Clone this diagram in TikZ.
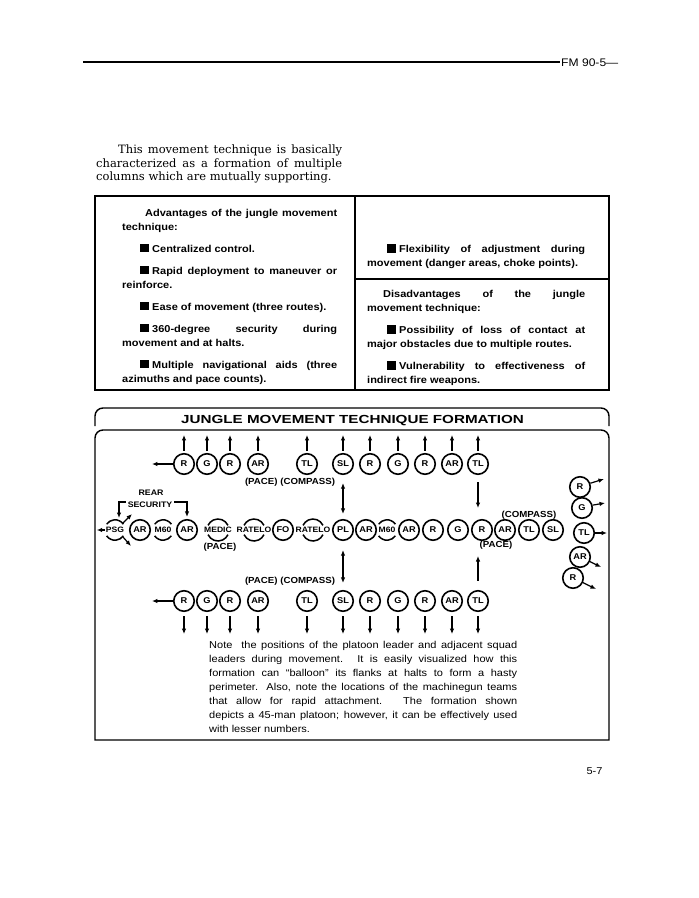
\documentclass[tikz,border=0pt]{standalone}
\usepackage{fontspec}
\setmainfont{DejaVu Serif}
\newfontfamily\uf[FakeStretch=1.1]{Liberation Sans}
\newfontfamily\tf[FakeStretch=1.3]{Liberation Sans}
\usetikzlibrary{arrows.meta}
\newcommand\sqb{\rule{8.5pt}{8.5pt}\hspace{3.5pt}}
\newcommand\arcpair[3]{%
  \draw[line width=1.5pt] ([shift={(90-#3:#2pt)}]#1.center) arc[start angle=90-#3,end angle=90+#3,radius=#2pt];
  \draw[line width=1.5pt] ([shift={(270-#3:#2pt)}]#1.center) arc[start angle=270-#3,end angle=270+#3,radius=#2pt];}
\begin{document}
\begin{tikzpicture}[x=1pt,y=-1pt,
  frame/.style={line width=1.4pt},
  arr/.style={line width=1.2pt,-{Latex[length=5.5pt,width=4.5pt]}},
  darr/.style={line width=1.2pt,{Latex[length=5.5pt,width=4.5pt]}-{Latex[length=5.5pt,width=4.5pt]}},
  sol/.style={circle,draw,line width=1.6pt,minimum size=20.5pt,inner sep=0pt,font=\uf\bfseries\fontsize{8.4}{9}\selectfont},
  lab/.style={inner sep=0pt,font=\uf\bfseries\fontsize{7.8}{8}\selectfont},
  lab8/.style={inner sep=0pt,font=\uf\bfseries\fontsize{8}{9}\selectfont},
  capt/.style={inner sep=0pt,font=\uf\bfseries\fontsize{8.8}{10}\selectfont},
  para/.style={anchor=north west,inner sep=0pt,align=justify},
  tabtext/.style={para,font=\uf\bfseries\fontsize{10}{14}\selectfont},
]
\fill[white] (0,0) rectangle (699,898);
\useasboundingbox (0,0) rectangle (699,898);

% header
\coordinate (hl) at (83,62);
\node[anchor=base west,inner sep=0pt,font=\uf\fontsize{11}{13}\selectfont] (hdr) at (561,66) {FM 90-5—};
\draw[line width=1.3pt] (hl) -- ([xshift=-1pt]hdr.west |- hl);

% intro
\node[para,text width=246pt,font=\fontsize{11.5}{13.4}\selectfont] (intro) at (96,144.8)
 {\noindent\hspace*{22pt}This movement technique is basically\linebreak characterized as a formation of multiple\linebreak columns which are mutually supporting.};

% table
\draw[frame] (95,196) rectangle (609,390);
\draw[frame] (355,196) -- (355,390);
\draw[frame] (355,279) -- (609,279);
\node[tabtext,text width=215pt] (adv) at (122,209)
 {\setlength\parskip{8pt}%
 \noindent\hspace*{23pt}Advantages of the jungle movement\linebreak technique:\par
 \noindent\hspace*{18pt}\sqb Centralized control.\par
 \noindent\hspace*{18pt}\sqb Rapid deployment to maneuver or\linebreak reinforce.\par
 \noindent\hspace*{18pt}\sqb Ease of movement (three routes).\par
 \noindent\hspace*{18pt}\sqb 360-degree security during\linebreak movement and at halts.\par
 \noindent\hspace*{18pt}\sqb Multiple navigational aids (three\linebreak azimuths and pace counts).};
\node[tabtext,text width=218pt] (flex) at (367,244)
 {\noindent\hspace*{20pt}\sqb Flexibility of adjustment during\linebreak movement (danger areas, choke points).};
\node[tabtext,text width=218pt] (dis) at (367,290.5)
 {\setlength\parskip{8pt}%
 \noindent\hspace*{16pt}Disadvantages of the jungle\linebreak movement technique:\par
 \noindent\hspace*{20pt}\sqb Possibility of loss of contact at\linebreak major obstacles due to multiple routes.\par
 \noindent\hspace*{20pt}\sqb Vulnerability to effectiveness of\linebreak indirect fire weapons.};

% diagram frame
\draw[frame] (95,426) -- (95,416) arc[start angle=180,end angle=90,radius=8pt]
  -- (601,408) arc[start angle=90,end angle=0,radius=8pt] -- (609,426);
\node[anchor=base,inner sep=0pt,font=\tf\bfseries\fontsize{11.7}{13}\selectfont] (title) at (352.5,423.2) {JUNGLE MOVEMENT TECHNIQUE FORMATION};
\draw[frame] (95,740) -- (95,438) arc[start angle=180,end angle=90,radius=8pt]
  -- (601,430) arc[start angle=90,end angle=0,radius=8pt] -- (609,740) -- cycle;

% top row
\foreach \n/\x/\l in {t1/184/R,t2/207/G,t3/230/R,t4/258/AR,t5/307/TL,t6/343/SL,t7/370/R,t8/398/G,t9/425/R,t10/452/AR,t11/478/TL}
  \node[sol] (\n) at (\x,464) {\l};
\foreach \n in {t1,t2,t3,t4,t5,t6,t7,t8,t9,t10,t11}
  \draw[arr,shorten <=2pt] (\n.north) -- ++(0,-18);
\draw[arr] (t1.west) -- ++(-21,0);
\node[capt] (pc1) at (290,482) {(PACE) (COMPASS)};

% bottom row
\foreach \n/\x/\l in {b1/184/R,b2/207/G,b3/230/R,b4/258/AR,b5/307/TL,b6/343/SL,b7/370/R,b8/398/G,b9/425/R,b10/452/AR,b11/478/TL}
  \node[sol] (\n) at (\x,601) {\l};
\foreach \n in {b1,b2,b3,b4,b5,b6,b7,b8,b9,b10,b11}
  \draw[arr,shorten <=4pt] (\n.south) -- ++(0,22);
\draw[arr] (b1.west) -- ++(-21,0);
\node[capt] (pc2) at (290,581) {(PACE) (COMPASS)};

% middle row
\node[lab] (m1) at (115,530) {PSG};
\node[sol] (m2) at (140,530) {AR};
\node[lab] (m3) at (163,530) {M60};
\node[sol] (m4) at (187,530) {AR};
\node[lab] (m5) at (218,530) {MEDIC};
\node[lab] (m6) at (254,530) {RATELO};
\node[sol] (m7) at (283,530) {FO};
\node[lab] (m8) at (313,530) {RATELO};
\node[sol] (m9) at (343,530) {PL};
\node[sol] (m10) at (366,530) {AR};
\node[lab] (m11) at (387,530) {M60};
\node[sol] (m12) at (409,530) {AR};
\node[sol] (m13) at (433,530) {R};
\node[sol] (m14) at (458,530) {G};
\node[sol] (m15) at (482,530) {R};
\node[sol] (m16) at (505,530) {AR};
\node[sol] (m17) at (529,530) {TL};
\node[sol] (m18) at (553,530) {SL};
\arcpair{m1}{10.2}{55}
\arcpair{m3}{10.2}{55}
\arcpair{m11}{10.2}{55}
\arcpair{m5}{11}{65}
\arcpair{m6}{11}{65}
\arcpair{m8}{11}{65}

\node[capt] (cm) at (529,515) {(COMPASS)};
\node[capt] (pm1) at (220,547) {(PACE)};
\node[capt] (pm2) at (496,545) {(PACE)};

% rear security
\node[lab8] (rear) at (151,493) {REAR};
\node[lab8] (sec) at (150,505) {SECURITY};
\draw[arr] ([xshift=-2pt,yshift=3pt]sec.west) -| ([xshift=4pt,yshift=12pt]m1.center);
\draw[arr] ([xshift=2pt,yshift=3pt]sec.east) -| ([yshift=2pt]m4.north);
\draw[arr] ([shift={(8pt,7pt)}]m1.center) -- ++(9,-9);
\draw[arr] ([shift={(8pt,-7pt)}]m1.center) -- ++(8,9);
\draw[arr] ([xshift=-1pt]m1.west) -- ++(-8,0);

% verticals
\draw[darr,shorten <=8pt,shorten >=5pt] (t6.south) -- (m9.north);
\draw[darr,shorten <=9pt,shorten >=7pt] (m9.south) -- (b6.north);
\coordinate (ra) at (478,508);
\coordinate (rb) at (478,556);
\draw[arr,shorten <=7pt] (t11.south) -- (ra);
\draw[arr,shorten <=9pt] (b11.north) -- (rb);

% right cluster
\node[sol] (r1) at (580,487) {R};
\node[sol] (r2) at (582,508) {G};
\node[sol] (r3) at (584,533) {TL};
\node[sol] (r4) at (580,557) {AR};
\node[sol] (r5) at (573,578) {R};
\coordinate (e1) at (604,479);
\coordinate (e2) at (605,503);
\coordinate (e3) at (607,533);
\coordinate (e4) at (601,567);
\coordinate (e5) at (596,589);
\draw[arr] (r1.20) -- (e1);
\draw[arr] (r2.15) -- (e2);
\draw[arr] (r3.east) -- (e3);
\draw[arr] (r4.-25) -- (e4);
\draw[arr] (r5.-25) -- (e5);

% note
\node[para,text width=308pt,font=\uf\fontsize{10}{14}\selectfont] (note) at (209,641)
 {\noindent Note\ \ the positions of the platoon leader and adjacent squad\linebreak leaders during movement. It is easily visualized how this\linebreak formation can “balloon” its flanks at halts to form a hasty\linebreak perimeter. Also, note the locations of the machinegun teams\linebreak that allow for rapid attachment. The formation shown\linebreak depicts a 45-man platoon; however, it can be effectively used\linebreak with lesser numbers.};

% page number
\node[anchor=base,inner sep=0pt,font=\uf\fontsize{10}{12}\selectfont] (pg) at (594.5,774) {5-7};
\end{tikzpicture}
\end{document}
